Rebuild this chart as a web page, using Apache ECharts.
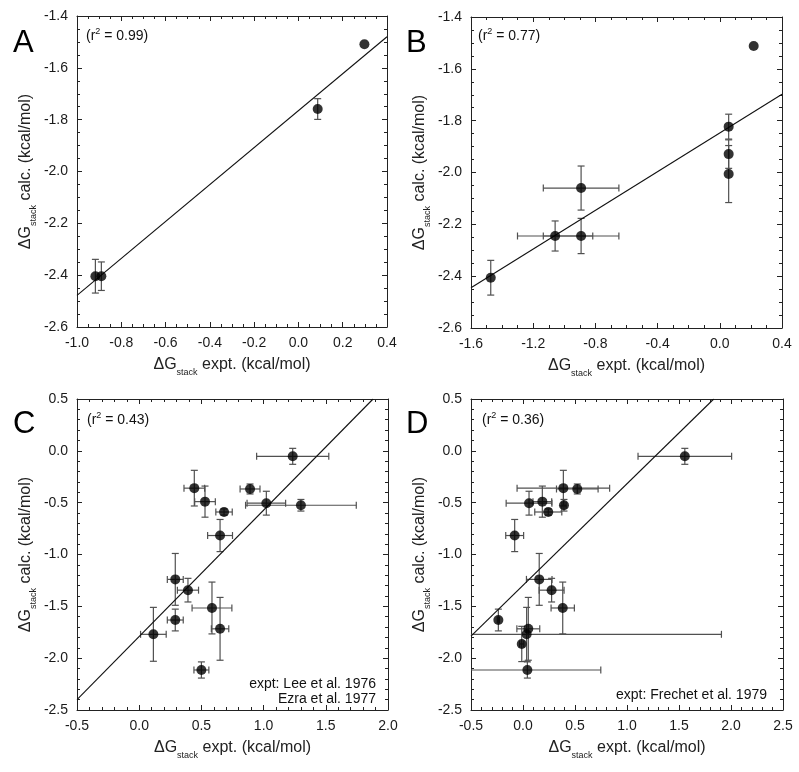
<!DOCTYPE html>
<html><head><meta charset="utf-8">
<script src="https://cdn.jsdelivr.net/npm/echarts@6/dist/echarts.min.js"></script>
<style>html,body{margin:0;padding:0;background:#fff}#c{width:799px;height:772px}</style>
</head><body><div id="c"></div>
<script>
// ---------- Panel A ----------
const aX    = [-0.917, -0.890, 0.087, 0.298];
const aY    = [-2.404, -2.404, -1.759, -1.509];
const aXErr = [0, 0, 0, 0];
const aYErr = [0.065, 0.055, 0.040, 0];
const aFit  = [[-1.0, -2.478], [0.4, -1.480]];
const aXRange = [-1.0, 0.4], aXStep = 0.2;
const aYRange = [-2.6, -1.4], aYStep = 0.2;
const aR2 = '0.99';

// ---------- Panel B ----------
const bX    = [-1.473, -1.059, -0.892, -0.892, 0.057, 0.057, 0.057, 0.218];
const bY    = [-2.406, -2.245, -2.245, -2.060, -1.823, -1.929, -2.006, -1.512];
const bXErr = [0, 0.242, 0.243, 0.243, 0, 0, 0, 0];
const bYErr = [0.067, 0.058, 0.068, 0.085, 0.048, 0.055, 0.110, 0];
const bFit  = [[-1.6, -2.445], [0.4, -1.698]];
const bXRange = [-1.6, 0.4], bXStep = 0.4;
const bYRange = [-2.6, -1.4], bYStep = 0.2;
const bR2 = '0.77';

// ---------- Panel C ----------
const cX    = [1.234, 0.443, 0.529, 0.891, 1.022, 1.300, 0.682, 0.650, 0.290, 0.392, 0.585, 0.290, 0.650, 0.114, 0.500];
const cY    = [-0.053, -0.360, -0.490, -0.368, -0.505, -0.525, -0.590, -0.817, -1.240, -1.344, -1.516, -1.632, -1.717, -1.770, -2.114];
const cXErr = [0.290, 0.083, 0.083, 0.080, 0.155, 0.445, 0.066, 0.100, 0.064, 0.085, 0.160, 0.064, 0.070, 0.103, 0.060];
const cYErr = [0.077, 0.172, 0.150, 0.048, 0.115, 0.056, 0.030, 0.155, 0.250, 0.114, 0.250, 0.105, 0.303, 0.260, 0.078];
const cFit  = [[-0.5, -2.40], [1.88, 0.5]];
const cXRange = [-0.5, 2.0], cXStep = 0.5;
const cYRange = [-2.5, 0.5], cYStep = 0.5;
const cR2 = '0.43';
const cNote = ['expt: Lee et al. 1976', 'Ezra et al. 1977'];

// ---------- Panel D ----------
const dX    = [1.556, 0.388, 0.522, 0.058, 0.186, 0.243, 0.394, -0.080, 0.156, 0.275, 0.382, -0.237, 0.051, 0.035, -0.012, 0.042];
const dY    = [-0.053, -0.360, -0.368, -0.505, -0.490, -0.590, -0.525, -0.817, -1.240, -1.344, -1.516, -1.632, -1.717, -1.770, -1.863, -2.114];
const dXErr = [0.450, 0.445, 0.200, 0.220, 0.090, 0.130, 0.020, 0.086, 0.123, 0.120, 0.112, 0.010, 0.110, 1.873, 0.020, 0.706];
const dYErr = [0.077, 0.172, 0.048, 0.115, 0.150, 0.030, 0.056, 0.155, 0.250, 0.114, 0.250, 0.105, 0.303, 0.260, 0.170, 0.078];
const dFit  = [[-0.5, -1.787], [1.834, 0.5]];
const dXRange = [-0.5, 2.5], dXStep = 0.5;
const dYRange = [-2.5, 0.5], dYStep = 0.5;
const dR2 = '0.36';
const dNote = ['expt: Frechet et al. 1979'];

const panelLetters = ['A', 'B', 'C', 'D'];

// ---------- layout / style ----------
const FONT = '"Liberation Sans", Arial, Helvetica, sans-serif';
const AXIS_COLOR = '#222';
const ERR_COLOR = '#505050';
const grids = [
  {left: 77, top: 16, width: 310, height: 311},
  {left: 471, top: 17, width: 311, height: 311},
  {left: 77, top: 399, width: 311, height: 311},
  {left: 471, top: 399, width: 312, height: 311}
];
const panels = [
  {x: aX, y: aY, xe: aXErr, ye: aYErr, fit: aFit, xr: aXRange, xs: aXStep, yr: aYRange, ys: aYStep, r2: aR2, mx: 4, my: 4},
  {x: bX, y: bY, xe: bXErr, ye: bYErr, fit: bFit, xr: bXRange, xs: bXStep, yr: bYRange, ys: bYStep, r2: bR2, mx: 4, my: 4},
  {x: cX, y: cY, xe: cXErr, ye: cYErr, fit: cFit, xr: cXRange, xs: cXStep, yr: cYRange, ys: cYStep, r2: cR2, mx: 5, my: 5},
  {x: dX, y: dY, xe: dXErr, ye: dYErr, fit: dFit, xr: dXRange, xs: dXStep, yr: dYRange, ys: dYStep, r2: dR2, mx: 5, my: 5}
];

const titleRich = {
  a: {fontSize: 16, fontFamily: FONT, color: '#222', verticalAlign: 'bottom', padding: [0, 0, 4, 0]},
  b: {fontSize: 9, fontFamily: FONT, color: '#222', verticalAlign: 'bottom', padding: [0, 0, 0, 0]}
};

function axisCommon(range, step, minor, showLabel, isX) {
  return {
    type: 'value', min: range[0], max: range[1], interval: step,
    axisLine: {show: true, onZero: false, lineStyle: {color: AXIS_COLOR, width: 1}},
    axisTick: {show: true, inside: true, length: 5, lineStyle: {color: AXIS_COLOR, width: 1}},
    minorTick: {show: true, splitNumber: minor, length: 3, lineStyle: {color: AXIS_COLOR, width: 1}},
    splitLine: {show: false},
    axisLabel: {show: showLabel, fontSize: 14, fontFamily: FONT, color: '#1a1a1a',
      margin: isX ? 9 : 9, showMinLabel: true, showMaxLabel: true,
      formatter: v => (Math.abs(v) < 1e-9 ? 0 : v).toFixed(1)}
  };
}

function errRender(xr, yr) {
  return function (params, api) {
    const x = api.value(0), y = api.value(1), xe = api.value(2), ye = api.value(3);
    const cap = 3.5, kids = [];
    const st = {stroke: ERR_COLOR, lineWidth: 1.2};
    const seg = (x1, y1, x2, y2) => kids.push({type: 'line', shape: {x1, y1, x2, y2}, style: st});
    if (ye > 0) {
      const hi = Math.min(y + ye, yr[1]), lo = Math.max(y - ye, yr[0]);
      const t = api.coord([x, hi]), b = api.coord([x, lo]);
      seg(t[0], t[1], b[0], b[1]);
      if (y + ye <= yr[1]) seg(t[0] - cap, t[1], t[0] + cap, t[1]);
      if (y - ye >= yr[0]) seg(b[0] - cap, b[1], b[0] + cap, b[1]);
    }
    if (xe > 0) {
      const l = Math.max(x - xe, xr[0]), r = Math.min(x + xe, xr[1]);
      const pl = api.coord([l, y]), pr = api.coord([r, y]);
      seg(pl[0], pl[1], pr[0], pr[1]);
      if (x - xe >= xr[0]) seg(pl[0], pl[1] - cap, pl[0], pl[1] + cap);
      if (x + xe <= xr[1]) seg(pr[0], pr[1] - cap, pr[0], pr[1] + cap);
    }
    return {type: 'group', children: kids};
  };
}

const xAxis = [], yAxis = [], series = [];
panels.forEach((p, g) => {
  xAxis.push(Object.assign(axisCommon(p.xr, p.xs, p.mx, true, true), {
    gridIndex: g, position: 'bottom',
    name: '{a|ΔG}{b|stack}{a| expt. (kcal/mol)}', nameLocation: 'middle', nameGap: 30,
    nameTextStyle: {rich: titleRich}
  }));
  xAxis.push(Object.assign(axisCommon(p.xr, p.xs, p.mx, false, true), {gridIndex: g, position: 'top'}));
  yAxis.push(Object.assign(axisCommon(p.yr, p.ys, p.my, true, false), {
    gridIndex: g, position: 'left',
    name: '{a|ΔG}{b|stack}{a| calc. (kcal/mol)}', nameLocation: 'middle', nameGap: 39,
    nameTextStyle: {rich: titleRich}
  }));
  yAxis.push(Object.assign(axisCommon(p.yr, p.ys, p.my, false, false), {gridIndex: g, position: 'right'}));

  const xi = 2 * g, yi = 2 * g;
  series.push({
    type: 'custom', xAxisIndex: xi, yAxisIndex: yi, clip: true, z: 1,
    renderItem: errRender(p.xr, p.yr),
    encode: {x: 0, y: 1},
    data: p.x.map((v, i) => [v, p.y[i], p.xe[i], p.ye[i]]),
    silent: true
  });
  series.push({
    type: 'line', xAxisIndex: xi, yAxisIndex: yi, z: 2, clip: true,
    data: p.fit, showSymbol: false, symbol: 'none', silent: true,
    lineStyle: {color: '#111', width: 1.1}
  });
  series.push({
    type: 'scatter', xAxisIndex: xi, yAxisIndex: yi, z: 3,
    data: p.x.map((v, i) => [v, p.y[i]]),
    symbol: 'circle', symbolSize: 10, itemStyle: {color: '#000'}, silent: true
  });
});

// annotations
const letterPos = [[13, 43], [406, 43], [13, 424], [406, 424]];
const r2Pos = [[86, 35], [478, 35], [87, 419], [482, 419]];
const graphic = [];
panels.forEach((p, g) => {
  graphic.push({
    type: 'text', x: letterPos[g][0], y: letterPos[g][1],
    style: {text: panelLetters[g], fontSize: 31, fontFamily: FONT, fill: '#000', verticalAlign: 'middle', align: 'left'}
  });
  graphic.push({
    type: 'text', x: r2Pos[g][0], y: r2Pos[g][1],
    style: {
      text: '{a|(r}{s|2}{a| = ' + p.r2 + ')}', verticalAlign: 'middle', align: 'left',
      rich: {
        a: {fontSize: 14, fontFamily: FONT, fill: '#111', verticalAlign: 'bottom'},
        s: {fontSize: 9, fontFamily: FONT, fill: '#111', verticalAlign: 'bottom', padding: [0, 0, 7, 0]}
      }
    }
  });
});
graphic.push({
  type: 'text', x: 376, y: 692,
  style: {text: cNote.join('\n'), fontSize: 14, lineHeight: 15, fontFamily: FONT, fill: '#111', align: 'right', verticalAlign: 'middle'}
});
graphic.push({
  type: 'text', x: 767, y: 695,
  style: {text: dNote.join('\n'), fontSize: 14, fontFamily: FONT, fill: '#111', align: 'right', verticalAlign: 'middle'}
});

const chart = echarts.init(document.getElementById('c'), null, {renderer: 'canvas'});
chart.setOption({
  animation: false,
  backgroundColor: '#fff',
  grid: grids,
  xAxis, yAxis, series, graphic
});
</script></body></html>
